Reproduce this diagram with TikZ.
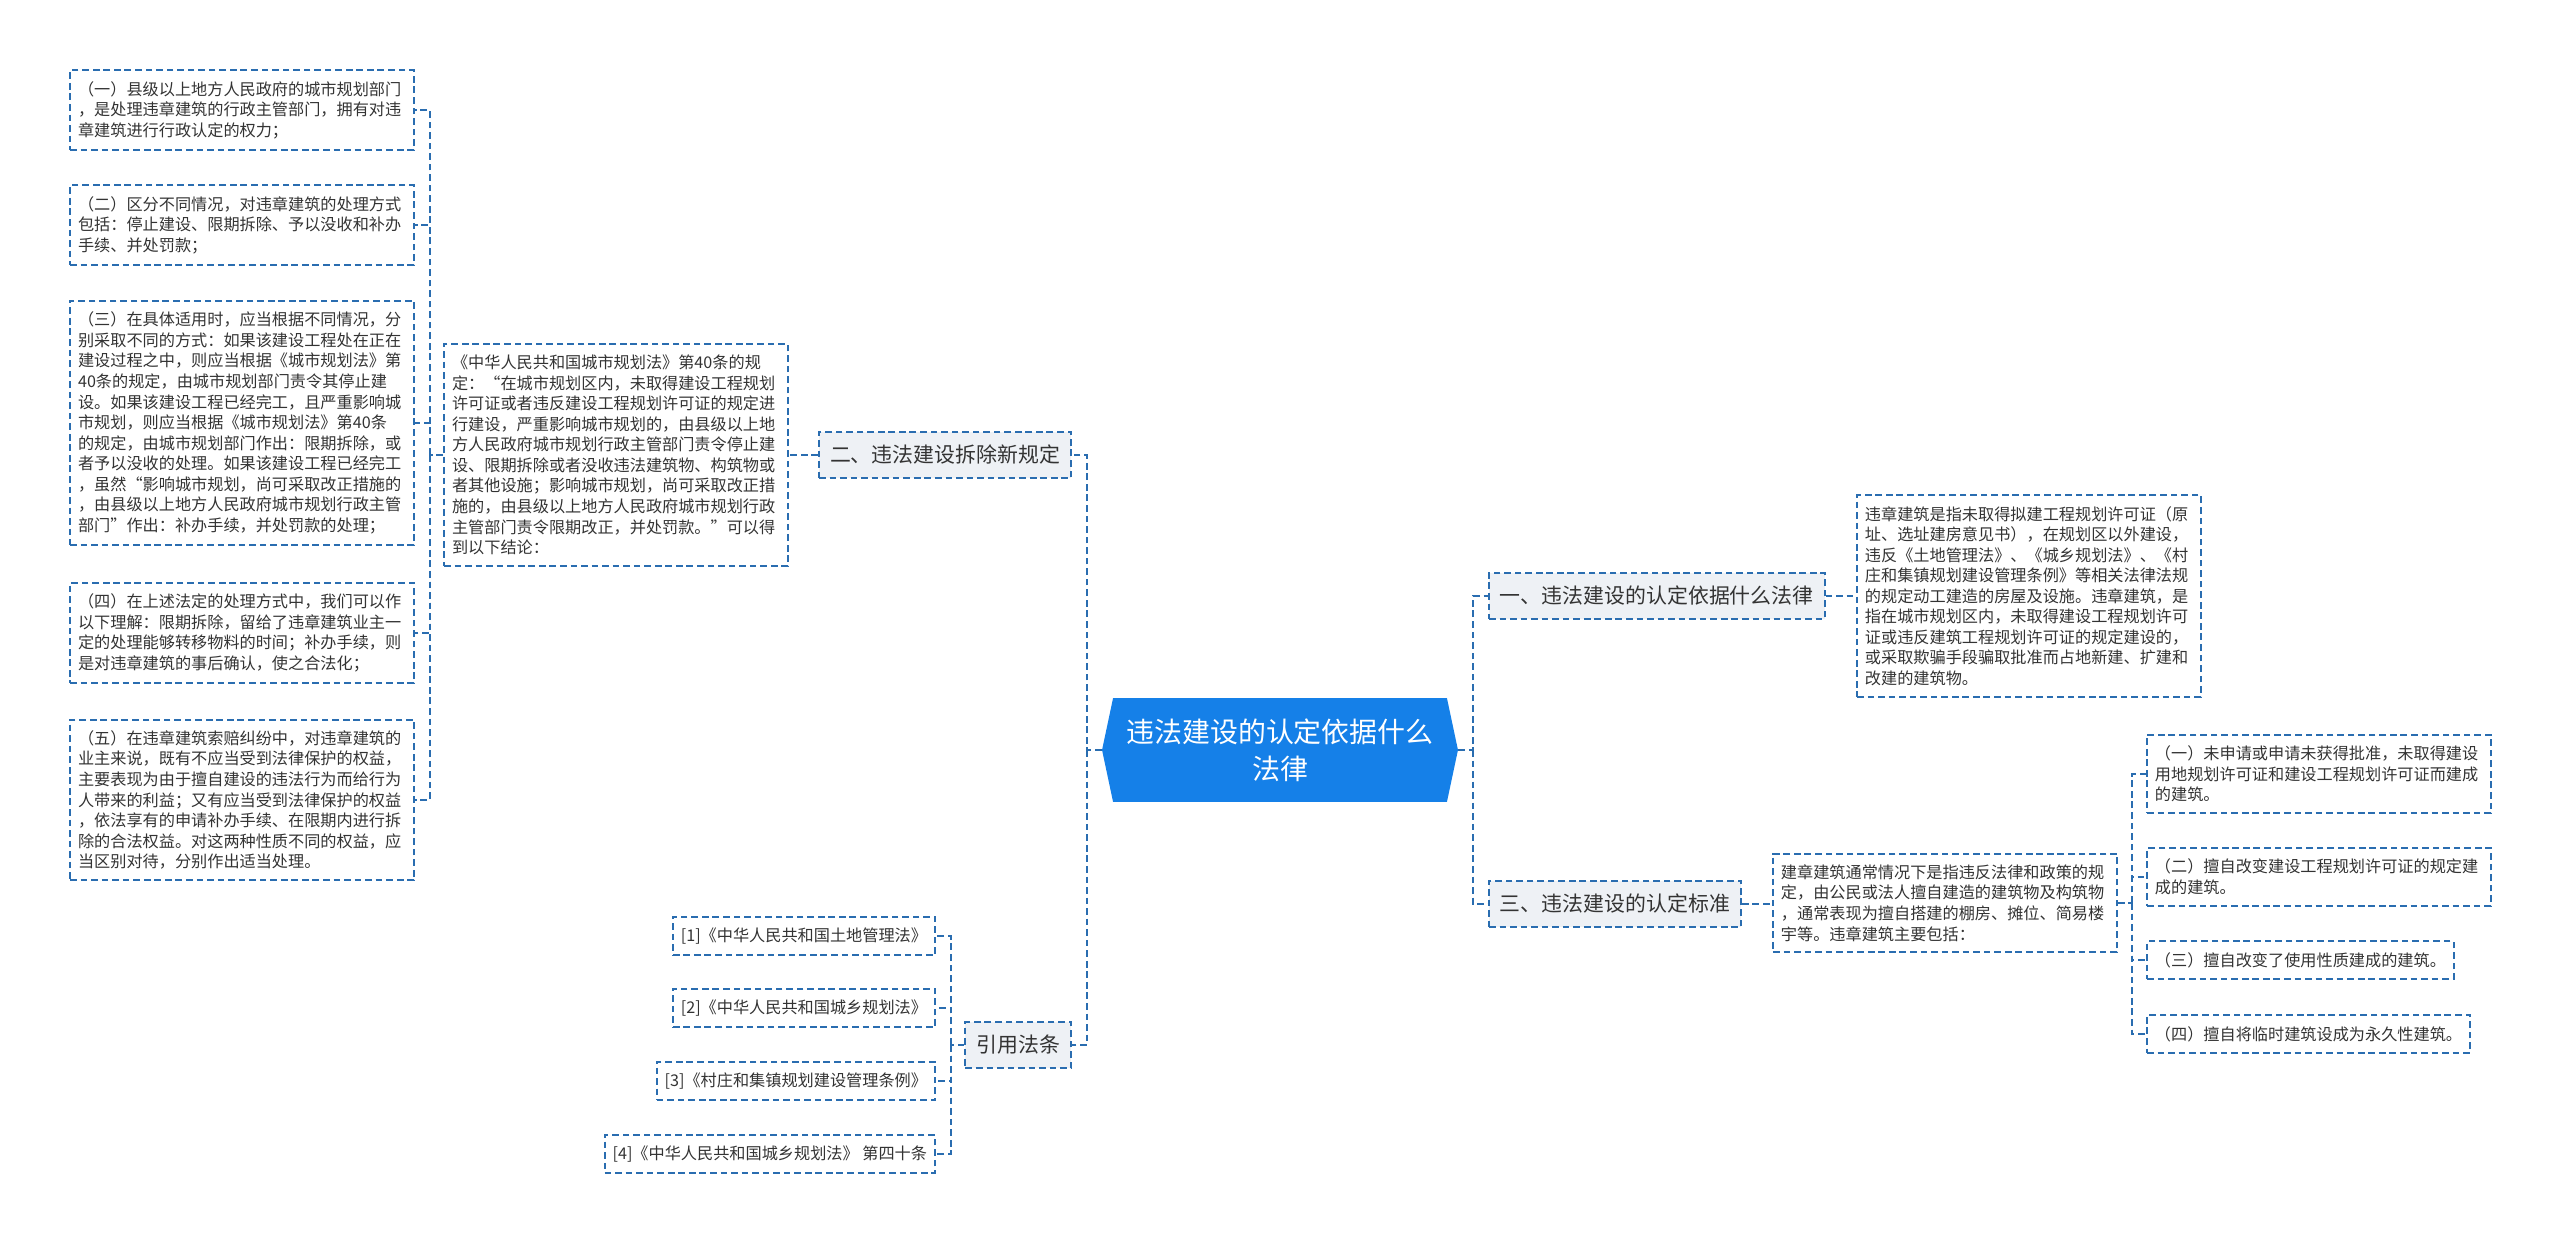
\documentclass[tikz,border=0pt]{standalone}
\usepackage{fontspec}
\setmainfont{Noto Sans CJK SC}
\usetikzlibrary{shapes.symbols}
\definecolor{lineblue}{HTML}{2A6DB0}
\definecolor{hubblue}{HTML}{1580E8}
\definecolor{tagfill}{HTML}{EEF1F5}
\definecolor{inkgray}{HTML}{333333}
\tikzset{
  link/.style={draw=lineblue, line width=1.1pt, dash pattern=on 3.8pt off 2.2pt},
  box/.style={draw=lineblue, line width=1.1pt, dash pattern=on 3.8pt off 2.2pt, text=inkgray,
    inner xsep=0.16cm, inner ysep=0.22cm, font=\fontsize{9.2pt}{11.7pt}\selectfont},
  leaf/.style={box, text width=6.56cm, align=left},
  tag/.style={box, fill=tagfill, inner xsep=0.22cm, inner ysep=0.27cm, font=\fontsize{11.9pt}{14pt}\selectfont},
  hub/.style={signal, signal to=west and east, signal pointer angle=156, fill=hubblue, text=white,
    minimum width=7.12cm, minimum height=2.08cm, align=center, font=\fontsize{15.9pt}{21pt}\selectfont}
}
\begin{document}
\begin{tikzpicture}[x=0.02cm,y=-0.02cm]
  \useasboundingbox (0,0) rectangle (2560,1243);
  \node[hub] (cen) at (1280,750) {违法建设的认定依据什么\\法律};
  \node[tag, anchor=west] (b1) at (1488,596) {一、违法建设的认定依据什么法律};
  \node[tag] (b2) at (945,455) {二、违法建设拆除新规定};
  \node[tag, anchor=west] (b3) at (1488,904) {三、违法建设的认定标准};
  \node[tag, anchor=east] (b4) at (1072,1045) {引用法条};
  \coordinate (sL) at (1087,0);
  \coordinate (sR) at (1473,0);
  \coordinate (s2) at (430,0);
  \coordinate (s3) at (2132,0);
  \coordinate (s4) at (951,0);

  \node[leaf, anchor=west] (l1) at (1856,596) {违章建筑是指未取得拟建工程规划许可证（原\\
    址、选址建房意见书），在规划区以外建设，\\
    违反《土地管理法》、《城乡规划法》、《村\\
    庄和集镇规划建设管理条例》等相关法律法规\\
    的规定动工建造的房屋及设施。违章建筑，是\\
    指在城市规划区内，未取得建设工程规划许可\\
    证或违反建筑工程规划许可证的规定建设的，\\
    或采取欺骗手段骗取批准而占地新建、扩建和\\
    改建的建筑物。};
  \node[leaf] (l2) at (616,455) {《中华人民共和国城市规划法》第40条的规\\
    定：“在城市规划区内，未取得建设工程规划\\
    许可证或者违反建设工程规划许可证的规定进\\
    行建设，严重影响城市规划的，由县级以上地\\
    方人民政府城市规划行政主管部门责令停止建\\
    设、限期拆除或者没收违法建筑物、构筑物或\\
    者其他设施；影响城市规划，尚可采取改正措\\
    施的，由县级以上地方人民政府城市规划行政\\
    主管部门责令限期改正，并处罚款。”可以得\\
    到以下结论：};
  \node[leaf, anchor=west] (l3) at (1772,903) {建章建筑通常情况下是指违反法律和政策的规\\
    定，由公民或法人擅自建造的建筑物及构筑物\\
    ，通常表现为擅自搭建的棚房、摊位、简易楼\\
    宇等。违章建筑主要包括：};

  \node[leaf] (a1) at (242,110) {（一）县级以上地方人民政府的城市规划部门\\
    ，是处理违章建筑的行政主管部门，拥有对违\\
    章建筑进行行政认定的权力；};
  \node[leaf] (a2) at (242,225) {（二）区分不同情况，对违章建筑的处理方式\\
    包括：停止建设、限期拆除、予以没收和补办\\
    手续、并处罚款；};
  \node[leaf] (a3) at (242,423) {（三）在具体适用时，应当根据不同情况，分\\
    别采取不同的方式：如果该建设工程处在正在\\
    建设过程之中，则应当根据《城市规划法》第\\
    40条的规定，由城市规划部门责令其停止建\\
    设。如果该建设工程已经完工，且严重影响城\\
    市规划，则应当根据《城市规划法》第40条\\
    的规定，由城市规划部门作出：限期拆除，或\\
    者予以没收的处理。如果该建设工程已经完工\\
    ，虽然“影响城市规划，尚可采取改正措施的\\
    ，由县级以上地方人民政府城市规划行政主管\\
    部门”作出：补办手续，并处罚款的处理；};
  \node[leaf] (a4) at (242,633) {（四）在上述法定的处理方式中，我们可以作\\
    以下理解：限期拆除，留给了违章建筑业主一\\
    定的处理能够转移物料的时间；补办手续，则\\
    是对违章建筑的事后确认，使之合法化；};
  \node[leaf] (a5) at (242,800) {（五）在违章建筑索赔纠纷中，对违章建筑的\\
    业主来说，既有不应当受到法律保护的权益，\\
    主要表现为由于擅自建设的违法行为而给行为\\
    人带来的利益；又有应当受到法律保护的权益\\
    ，依法享有的申请补办手续、在限期内进行拆\\
    除的合法权益。对这两种性质不同的权益，应\\
    当区别对待，分别作出适当处理。};

  \node[leaf, anchor=west] (c1) at (2146,774) {（一）未申请或申请未获得批准，未取得建设\\
    用地规划许可证和建设工程规划许可证而建成\\
    的建筑。};
  \node[leaf, anchor=west] (c2) at (2146,877) {（二）擅自改变建设工程规划许可证的规定建\\
    成的建筑。};
  \node[box, anchor=west] (c3) at (2146,960) {（三）擅自改变了使用性质建成的建筑。};
  \node[box, anchor=west] (c4) at (2146,1034) {（四）擅自将临时建筑设成为永久性建筑。};

  \foreach \i/\yy/\txt in {1/936/{[1]《中华人民共和国土地管理法》},
      2/1008/{[2]《中华人民共和国城乡规划法》},
      3/1081/{[3]《村庄和集镇规划建设管理条例》},
      4/1154/{[4]《中华人民共和国城乡规划法》 第四十条}}
    \node[box, anchor=east] (r\i) at (936,\yy) {\txt};

  \draw[link] (cen.west) -- (cen.west -| sL) |- (b2.east);
  \draw[link] (cen.west -| sL) |- (b4.east);
  \draw[link] (cen.east) -- (cen.east -| sR) |- (b1.west);
  \draw[link] (cen.east -| sR) |- (b3.west);
  \draw[link] (b1.east) -- (b1.east -| l1.west);
  \draw[link] (b2.west) -- (b2.west -| l2.east);
  \draw[link] (b3.east) -- (b3.east -| l3.west);
  \draw[link] (l2.west) -- (l2.west -| s2);
  \foreach \i in {1,...,5}
    \draw[link] (l2.west -| s2) |- (a\i.east);
  \draw[link] (l3.east) -- (l3.east -| s3);
  \foreach \i in {1,...,4}
    \draw[link] (l3.east -| s3) |- (c\i.west);
  \draw[link] (b4.west) -- (b4.west -| s4);
  \foreach \i in {1,...,4}
    \draw[link] (b4.west -| s4) |- (r\i.east);
\end{tikzpicture}
\end{document}
